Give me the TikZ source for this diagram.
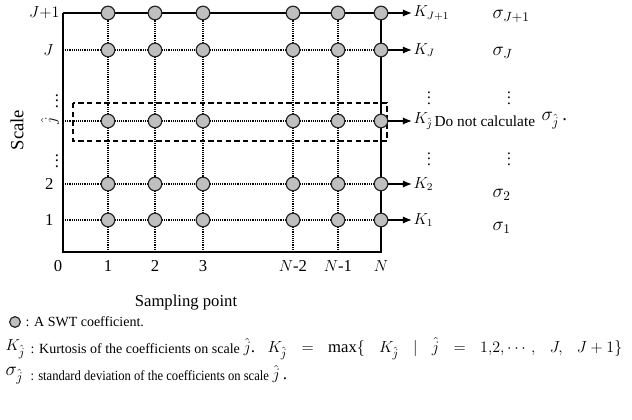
\documentclass[tikz,border=0pt]{standalone}
\usepackage{amsmath}
\usepackage{graphicx}
\usepackage{fontspec}
\setmainfont{Liberation Serif}
\usetikzlibrary{arrows.meta,positioning,calc}
\tikzset{
  >={Latex[length=2.4mm,width=1.9mm]},
  coef/.style={circle,draw=black!85,fill=black!25,line width=0.9pt,minimum size=10.2pt,inner sep=0pt},
  axis/.style={line width=1.2pt},
  grd/.style={line width=0.9pt,dash pattern=on 0.7pt off 0.7pt},
  box/.style={line width=1.2pt,dash pattern=on 4pt off 2.5pt},
  lab/.style={font=\fontsize{11.5}{13}\selectfont,inner sep=1pt},
  num/.style={font=\fontsize{12.5}{14}\selectfont,inner sep=1pt},
  sig/.style={font=\fontsize{14}{16}\selectfont,inner sep=1pt,anchor=west},
  leg/.style={font=\fontsize{10.5}{12}\selectfont,inner sep=1pt,anchor=west},
  arr/.style={->,line width=1pt},
}
\begin{document}
\begin{tikzpicture}[x=0.75pt,y=-0.75pt]
\useasboundingbox (0,0) rectangle (632,420);
% grid points
\coordinate (o) at (63,252);
\foreach \r/\y in {1/220,2/184,3/121,4/50,5/13} {
  \coordinate (l-\r) at (63,\y);
  \foreach \c/\x in {1/108,2/155,3/203,4/293,5/338,6/381}
    \coordinate (p-\c-\r) at (\x,\y);
}
\foreach \c/\x in {1/108,2/155,3/203,4/293,5/338,6/381}
  \coordinate (b-\c) at (\x,252);
% dotted grid
\foreach \r in {1,...,4} \draw[grd] (l-\r) -- (p-6-\r);
\foreach \c in {1,...,5} \draw[grd] (b-\c) -- (p-\c-5);
% axes and frame
\draw[axis] (l-5) -- (o) -- (b-6) -- (p-6-5) -- (l-5);
% scale j-hat is skipped
\draw[box] (73,103) rectangle (387,141);
% coefficients
\foreach \r in {1,...,5}
  \foreach \c in {1,...,6}
    \node[coef] (d-\c-\r) at (p-\c-\r) {};
% kurtosis per scale
\node[lab,anchor=west] (k-5) at (412,13) {$K_{J+1}$};
\node[lab,anchor=west] (k-4) at (412,50) {$K_J$};
\node[lab,anchor=west] (k-3) at (412,121) {$K_{\hat{j}}$};
\node[lab,anchor=west] (k-2) at (412,184) {$K_2$};
\node[lab,anchor=west] (k-1) at (412,220) {$K_1$};
\foreach \r in {1,...,5} \draw[arr] (d-6-\r) -- (k-\r);
\node[lab] (kd-a) at (429,94) {$\vdots$};
\node[lab] (kd-b) at (429,155) {$\vdots$};
% standard deviations
\node[sig] (s-5) at (491,16) {$\sigma_{J+1}$};
\node[sig] (s-4) at (491,53) {$\sigma_J$};
\node[lab] (sd-a) at (509,94) {$\vdots$};
\node[lab,anchor=west] (s-3) at (433,121) {Do not calculate};
\node[sig] (s-3s) at (540,121) {$\sigma_{\hat{j}}$\,.};
\node[lab] (sd-b) at (509,155) {$\vdots$};
\node[sig] (s-2) at (491,195) {$\sigma_2$};
\node[sig] (s-1) at (491,228) {$\sigma_1$};
% axis labels
\node[num,anchor=east] (y-5) at (61,13) {$J{+}1$};
\node[num,anchor=east] (y-4) at (55,50) {$J$};
\node[num] (y-d1) at (57,97) {$\vdots$};
\node[num,rotate=90] (y-3) at (50,121) {$\hat{j}$};
\node[num] (y-d2) at (57,157) {$\vdots$};
\node[num,anchor=east] (y-2) at (55,184) {2};
\node[num,anchor=east] (y-1) at (55,220) {1};
\node[num,font=\fontsize{14}{16}\selectfont,rotate=90] (ylab) at (17,130) {Scale};
\node[num] (x-0) at (58,266) {0};
\node[num] (x-1) at (108,266) {1};
\node[num] (x-2) at (155,266) {2};
\node[num] (x-3) at (203,266) {3};
\node[num] (x-4) at (293,266) {$N$-2};
\node[num] (x-5) at (338,266) {$N$-1};
\node[num] (x-6) at (381,266) {$N$};
\node[num] (xlab) at (186,303) {Sampling point};
% legend
\node[coef,minimum size=8pt] (lg-c) at (15,322) {};
\node[leg] (lg-1) at (24,322) {: A SWT coefficient.};
\node[sig,font=\fontsize{13}{15}\selectfont] (lg-k) at (4,349) {$K_{\hat{j}}$};
\node[leg] (lg-2) at (29,349) {: Kurtosis of the coefficients on scale};
\node[sig,font=\fontsize{13}{15}\selectfont] (lg-kj) at (242,347) {$\hat{j}$.};
\node[leg,font=\fontsize{12.5}{14}\selectfont] (lg-max) at (266,349)
  {\makebox[266pt][s]{$K_{\hat{j}}$\hfil$=$\hfil$\max\{$\hfil$K_{\hat{j}}$\hfil$|$\hfil$\hat{j}$\hfil$=$\hfil$1,\!2,\cdots,$\hfil$J,$\hfil$J+1\}$}};
\node[sig] (lg-s) at (4,376) {$\sigma_{\hat{j}}$};
\node[leg] (lg-3) at (29,376) {\scalebox{0.9}[1]{: standard deviation of the coefficients on scale}};
\node[sig,font=\fontsize{13}{15}\selectfont] (lg-sj) at (271,374) {$\hat{j}$\,.};
\end{tikzpicture}
\end{document}
